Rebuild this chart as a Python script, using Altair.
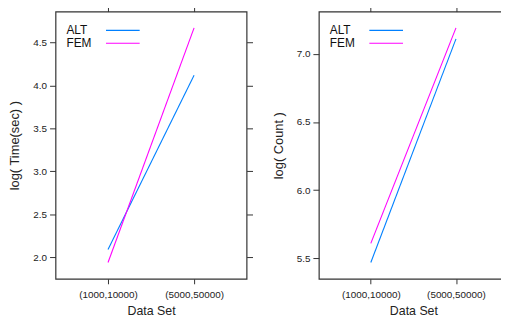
import altair as alt
import pandas as pd

datasets = ["(1000,10000)", "(5000,50000)"]
methods = ["ALT", "FEM"]
time_alt = [2.09, 4.12]
time_fem = [1.94, 4.67]
count_alt = [5.47, 7.11]
count_fem = [5.61, 7.19]
time_ticks = [2.0, 2.5, 3.0, 3.5, 4.0, 4.5]
count_ticks = [5.5, 6.0, 6.5, 7.0]
colors = ["#0080ff", "#ff00ff"]

def frame(a, f):
    rows = []
    for d, v in zip(datasets, a):
        rows.append({"ds": d, "method": "ALT", "v": v})
    for d, v in zip(datasets, f):
        rows.append({"ds": d, "method": "FEM", "v": v})
    return pd.DataFrame(rows)

FONT = "Liberation Sans"

def panel(df, title, domain, ticks, w, h):
    xs = alt.Scale(type="point", domain=datasets, padding=0.61)
    ys = alt.Scale(domain=domain, nice=False, zero=False)
    color = alt.Color(
        "method:N",
        scale=alt.Scale(domain=methods, range=colors),
        legend=alt.Legend(
            title=None, orient="none", legendX=-1, legendY=13,
            symbolType="M46,0H80", symbolSize=4, symbolStrokeWidth=1.2,
            labelFontSize=12, labelFont=FONT, labelColor="#111",
            labelAlign="left", labelOffset=0, rowPadding=1, padding=0,
        ),
    )
    base = alt.Chart(df).mark_line(strokeWidth=1.1).encode(
        x=alt.X("ds:N", scale=xs, sort=datasets,
                axis=alt.Axis(title="Data Set", labelAngle=0, tickSize=5,
                              labelPadding=6, titlePadding=5, domain=False,
                              labelFontSize=10, titleFontSize=12.5,
                              labelFont=FONT, titleFont=FONT, titleFontWeight="normal",
                              labelColor="#222", titleColor="#222", tickColor="#333")),
        y=alt.Y("v:Q", scale=ys,
                axis=alt.Axis(title=title, values=ticks, format=".1f", tickSize=6,
                              labelPadding=3, titlePadding=11, domain=False, grid=False,
                              labelFontSize=10, titleFontSize=13,
                              labelFont=FONT, titleFont=FONT, titleFontWeight="normal",
                              labelColor="#222", titleColor="#222", tickColor="#333")),
        color=color,
    )
    other = alt.Chart(df).mark_line(strokeOpacity=0).encode(
        x=alt.X("ds:N", scale=xs, sort=datasets,
                axis=alt.Axis(orient="top", title=None, labels=False, tickSize=5,
                              domain=False, tickColor="#333")),
        y=alt.Y("v:Q", scale=ys,
                axis=alt.Axis(orient="right", title=None, labels=False, values=ticks,
                              tickSize=6, domain=False, grid=False, tickColor="#333")),
    )
    return alt.layer(base, other).resolve_axis(x="independent", y="independent").properties(
        width=w, height=h)

left = panel(frame(time_alt, time_fem), "log( Time(sec) )", [1.75, 4.86], time_ticks, 193, 270)
right = panel(frame(count_alt, count_fem), "log( Count )", [5.35, 7.31], count_ticks, 191, 270)

chart = alt.hconcat(left, right, spacing=17).resolve_legend(color="independent").properties(
    padding={"left": 0, "top": -5, "right": -15, "bottom": 0},
    background="white",
).configure_view(stroke="#333", strokeWidth=1.2)

chart.save("out.html", embed_options={"renderer": "svg", "actions": False})
